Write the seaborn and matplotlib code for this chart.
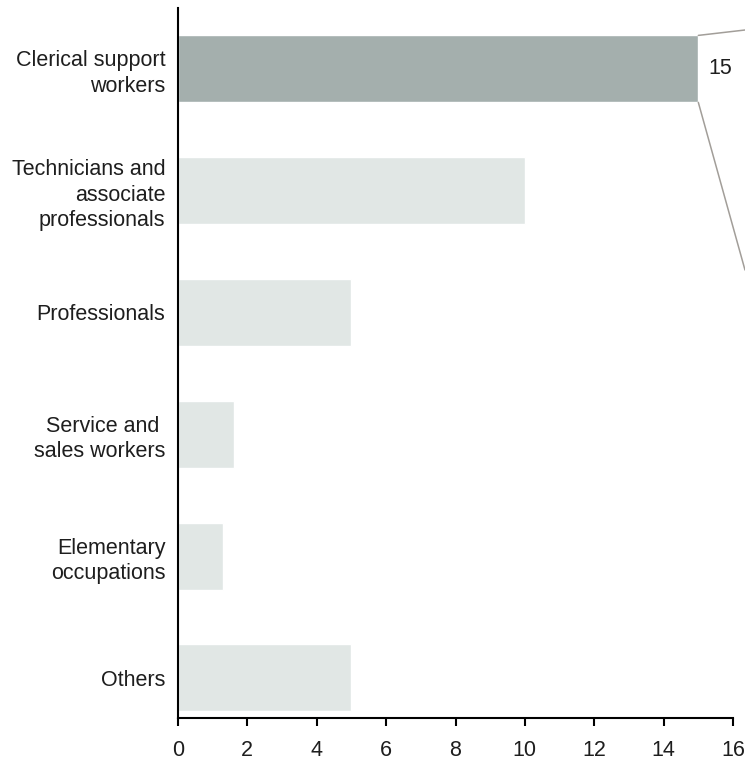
import matplotlib
matplotlib.use("Agg")
import matplotlib.pyplot as plt
import seaborn as sns
import pandas as pd

categories = [
    "Clerical support\nworkers",
    "Technicians and\nassociate\nprofessionals",
    "Professionals",
    "Service and \nsales workers",
    "Elementary\noccupations",
    "Others",
]
values = [15, 10, 5, 1.6, 1.3, 5]
highlight = "Clerical support\nworkers"
xticks = [0, 2, 4, 6, 8, 10, 12, 14, 16]

sns.set_theme(style="white")
plt.rcParams["font.family"] = ["Liberation Sans", "DejaVu Sans"]

FS = 15.5

df = pd.DataFrame({"category": categories, "value": values})
df["group"] = ["hi" if c == highlight else "lo" for c in df["category"]]

fig = plt.figure(figsize=(7.45, 7.79), dpi=100)
ax = fig.add_axes([178 / 745, 1 - 718 / 779, (733 - 178) / 745, (718 - 8) / 779])

sns.barplot(
    data=df, x="value", y="category", hue="group",
    palette={"hi": "#a4afad", "lo": "#e1e7e5"},
    order=categories, width=0.55, dodge=False, legend=False,
    saturation=1, ax=ax,
)

ax.set_xlim(0, 16)
ax.set_ylim(5.33, -0.5)
ax.set_xticks(xticks)
ax.set_xticklabels([str(t) for t in xticks], fontsize=FS, color="#1e1e1e")
ax.tick_params(axis="y", labelsize=FS, labelcolor="#1e1e1e", length=0, pad=9)
ax.tick_params(axis="x", direction="out", length=6, width=1.5, color="black",
               pad=10, bottom=True)
for lbl in ax.get_yticklabels():
    lbl.set_horizontalalignment("right")
    lbl.set_multialignment("right")
    lbl.set_linespacing(1.28)
ax.set_xlabel("")
ax.set_ylabel("")
sns.despine(ax=ax, top=True, right=True)
for side in ("left", "bottom"):
    ax.spines[side].set_color("black")
    ax.spines[side].set_linewidth(1.5)

# value label and callout lines on the highlighted bar
hi_val = values[categories.index(highlight)]
half = 0.55 / 2
ax.text(hi_val + 0.28, 0, str(hi_val), va="center", ha="left",
        fontsize=FS, color="#1e1e1e")
line_kw = dict(arrowprops=dict(arrowstyle="-", color="#a29e99", lw=1.1,
                               shrinkA=0, shrinkB=0),
               annotation_clip=False)
ax.annotate("", xy=(1.0, 1 - 30 / 779), xycoords="figure fraction",
            xytext=(hi_val, -half), textcoords="data", **line_kw)
ax.annotate("", xy=(1.0, 1 - 270 / 779), xycoords="figure fraction",
            xytext=(hi_val, half), textcoords="data", **line_kw)

fig.savefig("out.png", dpi=100)
